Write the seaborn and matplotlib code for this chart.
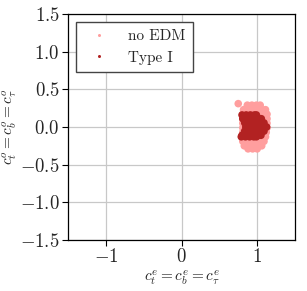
import numpy as np
import pandas as pd
import matplotlib
matplotlib.use("Agg")
import matplotlib.pyplot as plt
import seaborn as sns

# scan points, one row of c^e values per c^o value
noedm_row_y = [0.29, 0.23, 0.17, 0.11, 0.05, -0.01, -0.07, -0.13, -0.19, -0.25, -0.29]
noedm_row_x = [
    [0.87, 0.93, 0.99, 1.04],
    [0.82, 0.88, 0.94, 1.00, 1.06, 1.11],
    [0.81, 0.87, 0.93, 0.99, 1.05, 1.11, 1.13],
    [0.81, 0.87, 0.93, 0.99, 1.05, 1.11, 1.13],
    [0.81, 0.87, 0.93, 0.99, 1.05, 1.11, 1.13],
    [0.81, 0.87, 0.93, 0.99, 1.05, 1.11, 1.13],
    [0.81, 0.87, 0.93, 0.99, 1.05, 1.11, 1.12],
    [0.81, 0.87, 0.93, 0.99, 1.05, 1.11],
    [0.81, 0.87, 0.93, 0.99, 1.05, 1.09],
    [0.83, 0.89, 0.95, 1.01, 1.06],
    [0.88, 0.94, 1.00],
]
noedm_extra_x = [0.75]
noedm_extra_y = [0.31]

type1_row_y = [0.16, 0.11, 0.055, 0.0, -0.055, -0.11, -0.13]
type1_row_x = [
    [0.80, 0.855, 0.91, 0.965, 0.99],
    [0.81, 0.865, 0.92, 0.975, 1.03, 1.055],
    [0.835, 0.89, 0.945, 1.00, 1.055, 1.09],
    [0.85, 0.91, 0.965, 1.02, 1.075, 1.125],
    [0.835, 0.89, 0.945, 1.00, 1.055, 1.09],
    [0.80, 0.855, 0.91, 0.965, 1.02, 1.05],
    [0.79, 0.845, 0.90, 0.955, 0.99],
]

labels = ["no EDM", "Type I"]
colors = ["#ff9e9e", "#b22222"]
ticks_x = [-1, 0, 1]
ticks_y = [-1.5, -1.0, -0.5, 0.0, 0.5, 1.0, 1.5]


def rows_to_frame(row_y, row_x, name):
    xs, ys = [], []
    for y, xr in zip(row_y, row_x):
        xs += xr
        ys += [y] * len(xr)
    return pd.DataFrame({"ce": xs, "co": ys, "model": name})


df = pd.concat([
    rows_to_frame(noedm_row_y, noedm_row_x, labels[0]),
    pd.DataFrame({"ce": noedm_extra_x, "co": noedm_extra_y, "model": labels[0]}),
    rows_to_frame(type1_row_y, type1_row_x, labels[1]),
], ignore_index=True)

sns.set_style("white")
plt.rcParams["font.family"] = "serif"
plt.rcParams["font.serif"] = ["cmr10", "DejaVu Serif"]
plt.rcParams["mathtext.fontset"] = "cm"
plt.rcParams["axes.formatter.use_mathtext"] = True
plt.rcParams["font.size"] = 11

fig = plt.figure(figsize=(3.07, 2.91), dpi=100)
ax = fig.add_axes([68 / 307, 1 - 240 / 291, 227 / 307, 226 / 291])

sns.scatterplot(data=df, x="ce", y="co", hue="model", palette=colors,
                s=30, linewidth=0, ax=ax)

ax.set_xlim(-1.5, 1.5)
ax.set_ylim(-1.5, 1.5)
ax.set_xticks(ticks_x)
ax.set_yticks(ticks_y)
ax.grid(True, color="#c8c8c8", linewidth=0.9)
ax.set_axisbelow(True)
for sp in ax.spines.values():
    sp.set_color("black")
    sp.set_linewidth(0.9)
ax.tick_params(direction="out", length=4, width=0.8, color="black",
               labelsize=13.5, bottom=True, left=True, pad=2)
ax.set_xlabel(r"$c_t^e = c_b^e = c_\tau^e$", fontsize=11, labelpad=1)
ax.set_ylabel(r"$c_t^o = c_b^o = c_\tau^o$", fontsize=11, labelpad=1)

leg = ax.legend(loc="upper left", markerscale=0.4, borderaxespad=0.5,
                fancybox=False, framealpha=1, edgecolor="#444444",
                handletextpad=0.9, borderpad=0.5, fontsize=11, title=None)
leg.get_frame().set_linewidth(1.0)

fig.savefig("out.png", dpi=100)
